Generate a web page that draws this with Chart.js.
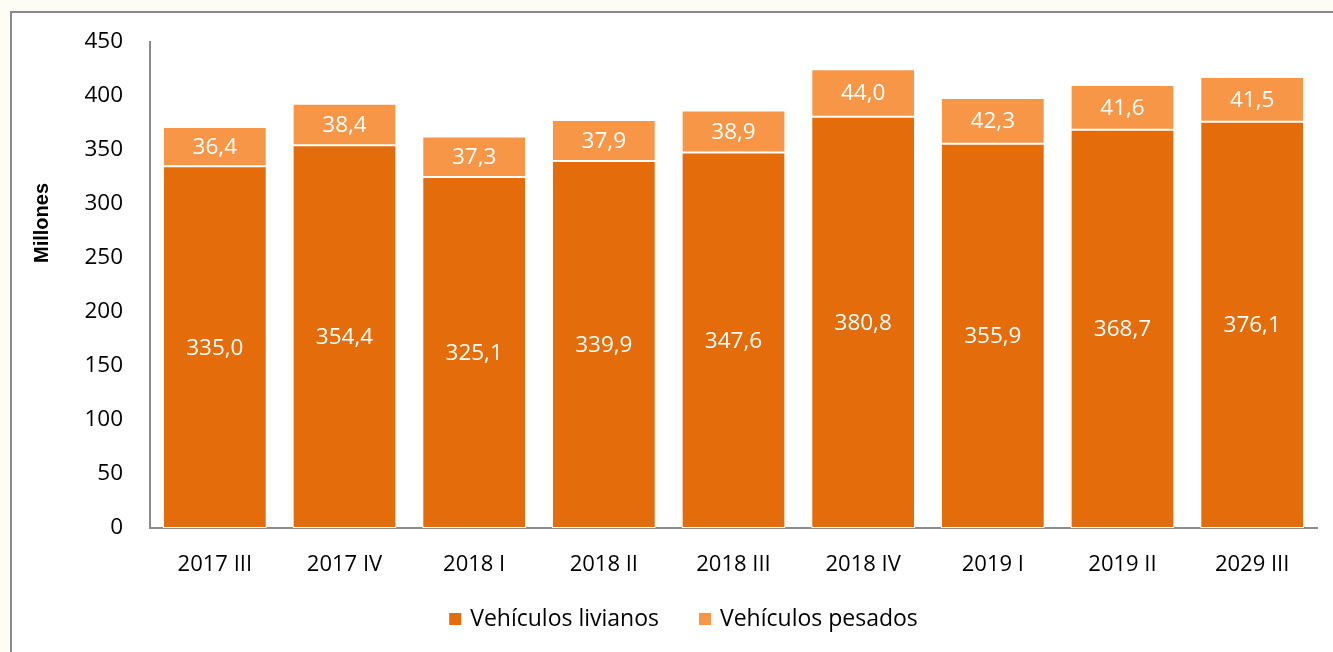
<!DOCTYPE html>
<html>
<head>
<meta charset="utf-8">
<script src="https://cdn.jsdelivr.net/npm/chart.js@4/dist/chart.umd.min.js"></script>
<style>
  html, body { margin: 0; padding: 0; background: #FDFDF5; overflow: hidden; }
  #c { display: block; }
</style>
</head>
<body>
<canvas id="c" width="1333" height="652"></canvas>
<script>
const categories = ['2017 III', '2017 IV', '2018 I', '2018 II', '2018 III', '2018 IV', '2019 I', '2019 II', '2029 III'];
const livianos = [335.0, 354.4, 325.1, 339.9, 347.6, 380.8, 355.9, 368.7, 376.1];
const pesados = [36.4, 38.4, 37.3, 37.9, 38.9, 44.0, 42.3, 41.6, 41.5];
const yTicks = [0, 50, 100, 150, 200, 250, 300, 350, 400, 450];
const seriesNames = ['Vehículos livianos', 'Vehículos pesados'];
const seriesColors = ['#E46C0A', '#F79646'];
const yTitle = 'Millones';

const BASE_FONT = "'Open Sans', 'Noto Sans', sans-serif";

const framePlugin = {
  id: 'frame',
  beforeDraw(chart) {
    const ctx = chart.ctx;
    ctx.save();
    ctx.fillStyle = '#FDFDF5';
    ctx.fillRect(0, 0, chart.width, chart.height);
    ctx.fillStyle = '#FFFFFF';
    ctx.fillRect(11, 12, chart.width, chart.height);
    ctx.fillStyle = '#8A8A8A';
    ctx.fillRect(10, 11, 2, chart.height);
    ctx.fillRect(10, 11, chart.width, 2);
    ctx.restore();
  },
  afterDraw(chart) {
    const ctx = chart.ctx;
    ctx.save();
    // y axis title
    ctx.translate(42, 223);
    ctx.rotate(-Math.PI / 2);
    ctx.font = "bold 20px 'Liberation Sans', Arial, sans-serif";
    ctx.fillStyle = '#000';
    ctx.textAlign = 'center';
    ctx.textBaseline = 'middle';
    ctx.fillText(yTitle, 0, 0);
    ctx.restore();

    // legend
    ctx.save();
    ctx.font = "23px " + BASE_FONT;
    ctx.textBaseline = 'middle';
    ctx.textAlign = 'left';
    const box = 12, gapText = 9, gapItems = 40;
    const widths = seriesNames.map(n => ctx.measureText(n).width);
    const total = widths.reduce((a, w) => a + box + gapText + w, 0) + gapItems * (seriesNames.length - 1);
    let x = 683.5 - total / 2;
    const cy = 619;
    seriesNames.forEach((n, i) => {
      ctx.fillStyle = seriesColors[i];
      ctx.fillRect(x, cy - 6, box, box);
      ctx.fillStyle = '#000';
      ctx.fillText(n, x + box + gapText, cy);
      x += box + gapText + widths[i] + gapItems;
    });
    ctx.restore();
  }
};

const valueLabels = {
  id: 'valueLabels',
  afterDatasetsDraw(chart) {
    const ctx = chart.ctx;
    ctx.save();
    ctx.font = "22.5px " + BASE_FONT;
    ctx.fillStyle = '#FFFFFF';
    ctx.textAlign = 'center';
    ctx.textBaseline = 'middle';
    chart.data.datasets.forEach((ds, di) => {
      const meta = chart.getDatasetMeta(di);
      meta.data.forEach((bar, i) => {
        const v = ds.data[i];
        const txt = v.toFixed(1).replace('.', ',');
        ctx.fillText(txt, bar.x, (bar.y + bar.base) / 2 + 1);
      });
    });
    ctx.restore();
  }
};

new Chart(document.getElementById('c'), {
  type: 'bar',
  data: {
    labels: categories,
    datasets: [
      { label: seriesNames[0], data: livianos, backgroundColor: seriesColors[0], borderColor: '#FFFFFF', borderWidth: 1, borderSkipped: false },
      { label: seriesNames[1], data: pesados, backgroundColor: seriesColors[1], borderColor: '#FFFFFF', borderWidth: 1, borderSkipped: false }
    ]
  },
  options: {
    responsive: false,
    animation: false,
    events: [],
    layout: { padding: { left: 50, right: 16, top: 42, bottom: 0 } },
    datasets: { bar: { categoryPercentage: 1.0, barPercentage: 0.8 } },
    plugins: {
      legend: { display: false },
      tooltip: { enabled: false },
      title: { display: false }
    },
    scales: {
      x: {
        stacked: true,
        grid: { display: false, drawTicks: false },
        border: { display: true, color: '#8C8C8C', width: 2 },
        ticks: { color: '#000', padding: 24, font: { family: BASE_FONT, size: 22 }, maxRotation: 0, autoSkip: false },
        afterFit(scale) { scale.height = 124; }
      },
      y: {
        stacked: true,
        min: 0, max: 450,
        grid: { display: false, drawTicks: false },
        border: { display: true, color: '#8C8C8C', width: 2 },
        afterBuildTicks(scale) { scale.ticks = yTicks.map(v => ({ value: v })); },
        ticks: { color: '#000', padding: 27, font: { family: BASE_FONT, size: 22.5 } },
        afterFit(scale) { scale.width = 100; }
      }
    }
  },
  plugins: [framePlugin, valueLabels]
});
</script>
</body>
</html>
